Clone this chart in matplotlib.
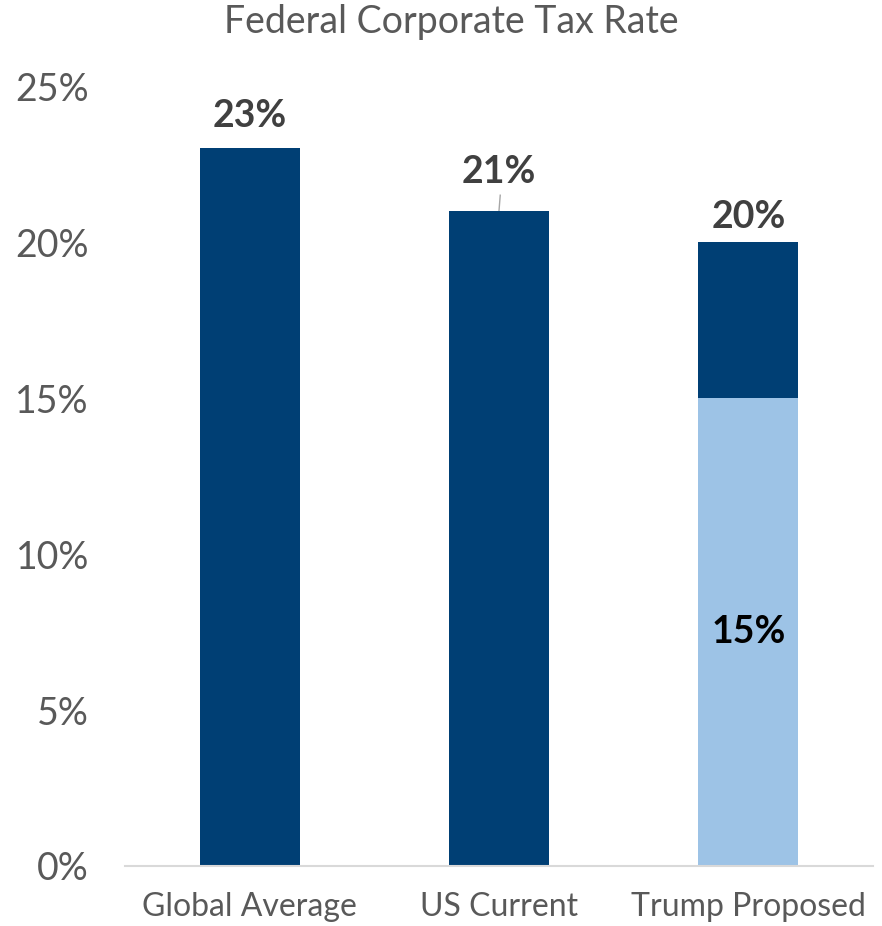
import matplotlib.pyplot as plt
import numpy as np

plt.rcParams['font.family'] = ['Lato', 'DejaVu Sans']

# chart data
categories = ['Global Average', 'US Current', 'Trump Proposed']
base_rate = [23, 21, 15]          # dark bars, light bar for the proposal
top_rate = [0, 0, 5]              # dark cap on the proposal
totals = [23, 21, 20]
label_offset = [1.05, 1.25, 0.8]  # label height above the bar top, in %

dark = '#003F74'
light = '#9DC3E6'

fig = plt.figure(figsize=(8.82, 9.26), dpi=100)
ax = fig.add_axes([0.1417, 0.0648, 0.8481, 0.8423])

x = np.arange(len(categories))
base_colors = [dark, dark, light]
ax.bar(x, base_rate, width=0.4, color=base_colors, zorder=2)
ax.bar(x, top_rate, width=0.4, bottom=base_rate, color=dark, zorder=2)

# value labels
for i, (t, off) in enumerate(zip(totals, label_offset)):
    ax.text(x[i], t + off, f'{t}%', ha='center', va='center',
            fontsize=27, fontweight='bold', color='#404040')
# leader line on the middle label
ax.plot([x[1] + 0.005, x[1]], [totals[1] + 0.5, totals[1]], color='#A6A6A6', lw=1, zorder=1)
ax.text(x[2], base_rate[2] / 2, f'{base_rate[2]}%', ha='center', va='center',
        fontsize=27, fontweight='bold', color='black')

ax.set_xlim(-0.5, 2.5)
ax.set_ylim(0, 25)
ax.set_yticks(np.arange(0, 26, 5))
ax.set_yticklabels([f'{v}%' for v in range(0, 26, 5)])
ax.set_xticks(x)
ax.set_xticklabels(categories)
ax.tick_params(axis='y', length=0, pad=26, labelsize=27, labelcolor='#595959')
ax.tick_params(axis='x', length=0, pad=19, labelsize=23, labelcolor='#595959')
for s in ['top', 'right', 'left']:
    ax.spines[s].set_visible(False)
ax.spines['bottom'].set_color('#D9D9D9')
ax.spines['bottom'].set_linewidth(1.5)

fig.text(0.5113, 0.976, 'Federal Corporate Tax Rate', ha='center', va='center',
         fontsize=27, color='#595959')

fig.savefig('out.png', dpi=100)
